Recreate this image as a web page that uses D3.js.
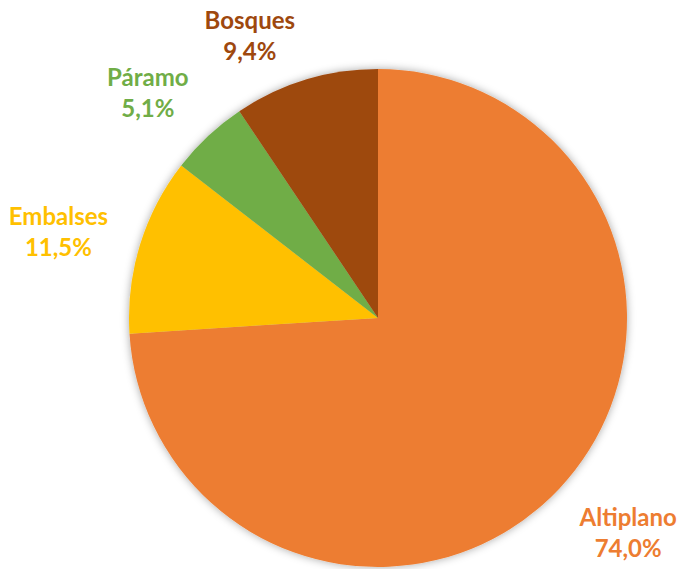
<!DOCTYPE html>
<html>
  <head>
    <meta charset="utf-8">
    <title>Distribución por zona</title>
  </head>
  <body>
    <style>
      body,
      html {
        margin: 0;
        padding: 0;
        background: #fff;
      }
      #svg text {
        font-family: Lato, "Open Sans", sans-serif;
        font-weight: bold;
        font-size: 24px;
      }
    </style>

    <svg id="svg" width="681" height="569"></svg>

    <script src="https://cdn.jsdelivr.net/npm/d3@7"></script>
    <script>
      const zones = ['Altiplano', 'Embalses', 'Páramo', 'Bosques'];
      const shares = [74.0, 11.5, 5.1, 9.4];
      const zoneColors = ['#ED7D31', '#FFC000', '#70AD47', '#9E480E'];

      const cx = 378;
      const cy = 318;
      const radius = 249;

      // label placement: distance from centre and small angle shift (degrees)
      const labelPlace = {
        Altiplano: { r: 330, shift: -2.5 },
        Embalses: { r: 331, shift: -2 },
        'Páramo': { r: 322, shift: -2.6 },
        Bosques: { r: 310, shift: -7.5 }
      };

      const locale = d3.formatLocale({ decimal: ',', thousands: '.', grouping: [3], currency: ['', '€'] });
      const pct = locale.format('.1f');

      const data = zones.map((z, i) => ({ zone: z, value: shares[i] }));
      const color = d3.scaleOrdinal().domain(zones).range(zoneColors);

      const svg = d3.select('#svg');

      const defs = svg.append('defs');
      const filter = defs.append('filter')
        .attr('id', 'shadow')
        .attr('x', '-10%').attr('y', '-10%')
        .attr('width', '120%').attr('height', '120%');
      filter.append('feDropShadow')
        .attr('dx', 0).attr('dy', 0)
        .attr('stdDeviation', 4)
        .attr('flood-color', '#000')
        .attr('flood-opacity', 0.35);

      const pie = d3.pie().sort(null).value(d => d.value);
      const arcs = pie(data);
      const arc = d3.arc().innerRadius(0).outerRadius(radius);

      const graph = svg.append('g')
        .attr('transform', `translate(${cx}, ${cy})`);

      graph.append('g')
        .attr('filter', 'url(#shadow)')
        .selectAll('path')
        .data(arcs)
        .enter()
        .append('path')
        .attr('d', arc)
        .attr('fill', d => color(d.data.zone));

      const labels = graph.selectAll('.label')
        .data(arcs)
        .enter()
        .append('g')
        .attr('class', 'label')
        .attr('transform', d => {
          const p = labelPlace[d.data.zone];
          const a = (d.startAngle + d.endAngle) / 2 + p.shift * Math.PI / 180;
          return `translate(${Math.sin(a) * p.r}, ${-Math.cos(a) * p.r})`;
        })
        .attr('fill', d => color(d.data.zone))
        .attr('text-anchor', 'middle');

      labels.append('text')
        .attr('y', -7)
        .text(d => d.data.zone);

      labels.append('text')
        .attr('y', 24)
        .text(d => pct(d.data.value) + '%');
    </script>
  </body>
</html>
